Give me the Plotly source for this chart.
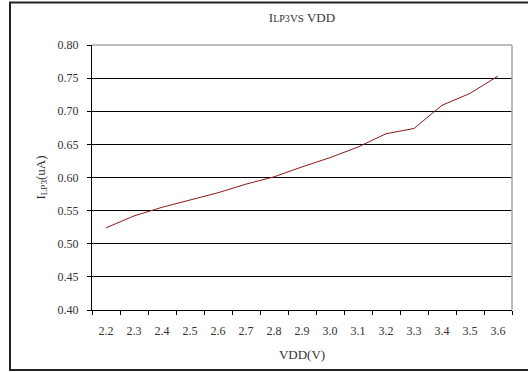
import plotly.graph_objects as go

vdd_labels = ["2.2", "2.3", "2.4", "2.5", "2.6", "2.7", "2.8", "2.9", "3.0", "3.1", "3.2", "3.3", "3.4", "3.5", "3.6"]
ilp3_values = [0.524, 0.542, 0.555, 0.566, 0.577, 0.590, 0.601, 0.616, 0.630, 0.646, 0.666, 0.674, 0.709, 0.727, 0.753]
y_ticks = [0.40, 0.45, 0.50, 0.55, 0.60, 0.65, 0.70, 0.75, 0.80]

FONT = "Liberation Serif, Times New Roman, serif"

fig = go.Figure()
fig.add_trace(go.Scatter(
    x=vdd_labels, y=ilp3_values, mode="lines",
    line=dict(color="#8B1A1A", width=1),
    showlegend=False, hoverinfo="skip",
))

fig.update_layout(
    width=528, height=372,
    margin=dict(l=92, r=16, t=45, b=62),
    paper_bgcolor="white", plot_bgcolor="white",
    font=dict(family=FONT, size=12, color="#333333"),
    title=dict(
        text="I<span style='font-size:10px'>LP3</span><span style='font-size:11px'>VS</span> VDD",
        x=0.5, xref="paper", xanchor="center",
        y=1 - 17/372, yanchor="middle",
        font=dict(family=FONT, size=13, color="#333333"),
    ),
    xaxis=dict(
        type="category", range=[-0.5, 14.5],
        tickson="boundaries", ticks="outside", ticklen=4, tickcolor="black",
        ticklabelstandoff=10,
        showgrid=False, showline=True, linecolor="black", linewidth=1,
        mirror=False, zeroline=False,
        tickfont=dict(family=FONT, size=12, color="#333333"),
        title=dict(text="VDD(V)", font=dict(family=FONT, size=13, color="#333333"), standoff=12),
        fixedrange=True,
    ),
    yaxis=dict(
        range=[0.40, 0.80], tickvals=y_ticks, ticktext=[f"{v:.2f}" for v in y_ticks],
        ticks="outside", ticklen=4, tickcolor="black",
        ticklabelstandoff=6,
        showgrid=True, gridcolor="black", gridwidth=1,
        showline=True, linecolor="black", linewidth=1, zeroline=False,
        tickfont=dict(family=FONT, size=12, color="#333333"),
        title=dict(text="I<sub>LP3</sub>(uA)", font=dict(family=FONT, size=13, color="#333333"), standoff=9),
        fixedrange=True,
    ),
    shapes=[
        dict(type="line", xref="paper", yref="paper", x0=0, x1=1, y0=1, y1=1,
             line=dict(color="#a6a6a6", width=1.5)),
        dict(type="line", xref="paper", yref="paper", x0=1, x1=1, y0=0, y1=1,
             line=dict(color="#a6a6a6", width=1.5)),
        dict(type="rect", xref="paper", yref="paper",
             x0=(10 - 92) / 420, x1=1.06,
             y0=(310 - 370) / 265, y1=(310 - 2.5) / 265,
             line=dict(color="#222222", width=2)),
    ],
)

fig.write_html("out.html")
